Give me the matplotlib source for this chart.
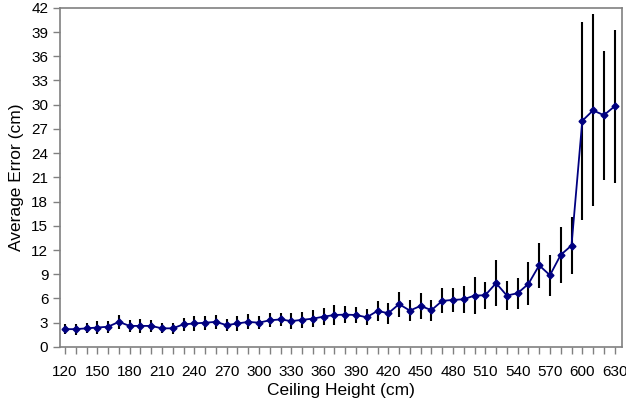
import numpy as np
import matplotlib
matplotlib.use('Agg')
import matplotlib.pyplot as plt
from matplotlib.ticker import MultipleLocator

plt.rcParams['font.family'] = ['Liberation Sans', 'DejaVu Sans']

# ceiling height (cm)
height = list(range(120, 640, 10))
# average error (cm)
err_mean = [2.2, 2.2, 2.3, 2.4, 2.5, 3.1, 2.6, 2.6, 2.6, 2.3,
            2.3, 2.8, 2.9, 3.0, 3.1, 2.7, 2.9, 3.1, 3.0, 3.3,
            3.4, 3.2, 3.35, 3.5, 3.75, 3.95, 4.0, 3.95, 3.67, 4.46,
            4.17, 5.3, 4.5, 5.08, 4.55, 5.7, 5.82, 5.9, 6.36, 6.4,
            7.9, 6.36, 6.65, 7.8, 10.1, 8.88, 11.4, 12.56, 28.0, 29.3,
            28.7, 29.8]
# error bar half-length
err_sd = [0.62, 0.68, 0.6, 0.76, 0.76, 0.87, 0.74, 0.85, 0.76, 0.62,
          0.66, 0.78, 0.89, 0.87, 0.89, 0.76, 0.89, 0.93, 0.78, 0.85,
          0.8, 0.95, 1.0, 1.03, 1.07, 1.18, 1.03, 0.97, 1.0, 1.24,
          1.3, 1.55, 1.3, 1.6, 1.3, 1.55, 1.5, 1.65, 2.27, 1.7,
          2.85, 1.84, 1.92, 2.66, 2.77, 2.52, 3.5, 3.57, 12.3, 11.9,
          8.0, 9.5]

fig = plt.figure(figsize=(6.26, 4.12), dpi=100)
ax = fig.add_axes([0.096, 0.158, 0.897, 0.823])

ax.errorbar(height, err_mean, yerr=err_sd, fmt='none', ecolor='black',
            elinewidth=1.5, capsize=0, zorder=2)
ax.plot(height, err_mean, color='#000080', lw=1.3, marker='D', ms=3.5,
        mfc='#000080', mec='#000080', zorder=3)

ax.set_xlim(115.5, 636.5)
ax.set_ylim(0, 42)
ax.yaxis.set_major_locator(MultipleLocator(3))
ax.xaxis.set_minor_locator(MultipleLocator(10))
ax.set_xticks(range(120, 631, 30))

for s in ax.spines.values():
    s.set_color('#808080')
    s.set_linewidth(1.2)

ax.tick_params(axis='both', which='both', direction='out', color='#808080',
               length=5, width=1, labelsize=11)
ax.tick_params(axis='x', which='minor', length=5)
ax.tick_params(axis='x', pad=8)

ax.set_xlabel('Ceiling Height (cm)', fontsize=12.5, labelpad=3)
ax.set_ylabel('Average Error (cm)', fontsize=12.5, labelpad=5)

plt.savefig('out.png', dpi=100)
